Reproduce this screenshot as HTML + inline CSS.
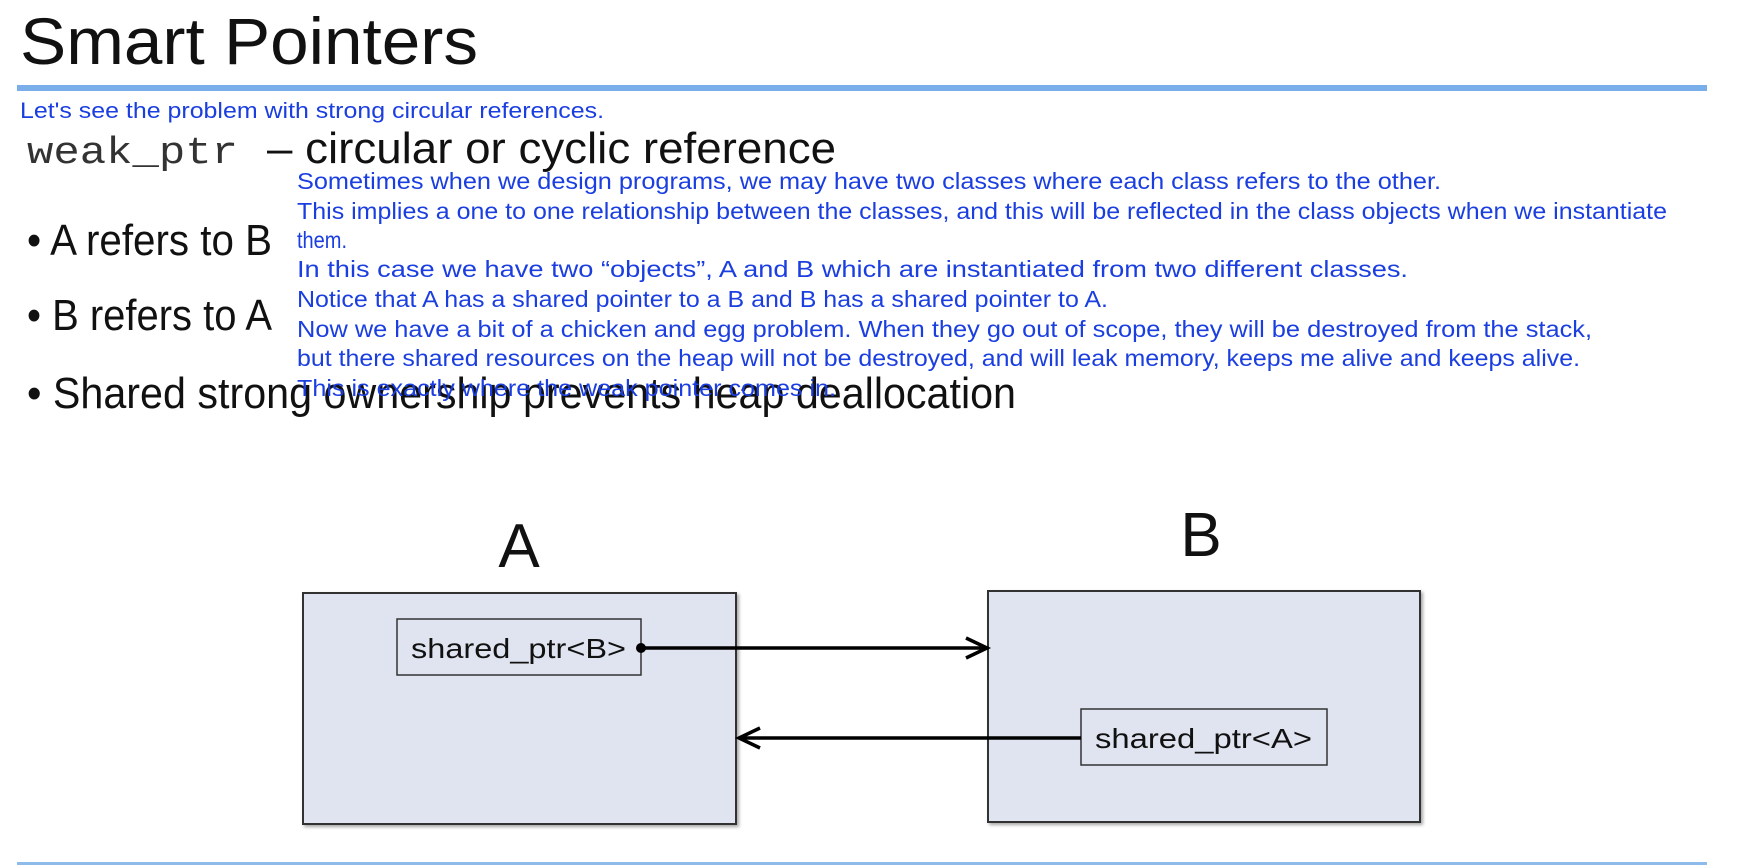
<!DOCTYPE html>
<html><head><meta charset="utf-8"><style>
html,body{margin:0;padding:0;background:#fff;width:1744px;height:868px;overflow:hidden}
</style></head><body>
<svg width="1744" height="868" xmlns="http://www.w3.org/2000/svg">
<defs>
<filter id="sh" x="-5%" y="-5%" width="110%" height="110%"><feDropShadow dx="2" dy="2" stdDeviation="1.5" flood-color="#000" flood-opacity="0.35"/></filter>
</defs>
<text x="20" y="64" font-family="Liberation Sans, sans-serif" font-size="66" fill="#111" textLength="458" lengthAdjust="spacingAndGlyphs">Smart Pointers</text>
<rect x="17" y="85" width="1690" height="6" fill="#7aaee8"/>
<text x="20" y="118" font-family="Liberation Sans, sans-serif" font-size="22" fill="#1a3ee0" textLength="584" lengthAdjust="spacingAndGlyphs">Let's see the problem with strong circular references.</text>
<g font-family="Liberation Sans, sans-serif" font-size="44" fill="#111">
<text x="27" y="163" font-family="Liberation Mono, monospace" font-size="38" fill="#333" textLength="211" lengthAdjust="spacingAndGlyphs">weak_ptr</text>
<text x="267" y="163" textLength="569" lengthAdjust="spacingAndGlyphs">– circular or cyclic reference</text>
<text x="27" y="255" textLength="245" lengthAdjust="spacingAndGlyphs">• A refers to B</text>
<text x="27" y="330" textLength="245" lengthAdjust="spacingAndGlyphs">• B refers to A</text>
<text x="27" y="408" textLength="989" lengthAdjust="spacingAndGlyphs">• Shared strong ownership prevents heap deallocation</text>
</g>
<g font-family="Liberation Sans, sans-serif" font-size="23" fill="#1a3ee0">
<text x="297" y="189" textLength="1144" lengthAdjust="spacingAndGlyphs">Sometimes when we design programs, we may have two classes where each class refers to the other.</text>
<text x="297" y="219" textLength="1370" lengthAdjust="spacingAndGlyphs">This implies a one to one relationship between the classes, and this will be reflected in the class objects when we instantiate</text>
<text x="297" y="248" textLength="50" lengthAdjust="spacingAndGlyphs">them.</text>
<text x="297" y="277" textLength="1111" lengthAdjust="spacingAndGlyphs">In this case we have two “objects”, A and B which are instantiated from two different classes.</text>
<text x="297" y="307" textLength="811" lengthAdjust="spacingAndGlyphs">Notice that A has a shared pointer to a B and B has a shared pointer to A.</text>
<text x="297" y="337" textLength="1295" lengthAdjust="spacingAndGlyphs">Now we have a bit of a chicken and egg problem. When they go out of scope, they will be destroyed from the stack,</text>
<text x="297" y="366" textLength="1283" lengthAdjust="spacingAndGlyphs">but there shared resources on the heap will not be destroyed, and will leak memory, keeps me alive and keeps alive.</text>
<text x="297" y="396" textLength="539" lengthAdjust="spacingAndGlyphs">This is exactly where the weak pointer comes in.</text>
</g>
<text x="519" y="567" text-anchor="middle" font-family="Liberation Sans, sans-serif" font-size="62" fill="#111">A</text>
<text x="1201" y="556" text-anchor="middle" font-family="Liberation Sans, sans-serif" font-size="62" fill="#111">B</text>
<rect x="303" y="593" width="433" height="231" fill="#dfe4f0" stroke="#333" stroke-width="2" filter="url(#sh)"/>
<rect x="988" y="591" width="432" height="231" fill="#dfe4f0" stroke="#333" stroke-width="2" filter="url(#sh)"/>
<rect x="397" y="619" width="244" height="56" fill="#dfe4f0" stroke="#333" stroke-width="1.5"/>
<text x="411" y="658" font-family="Liberation Sans, sans-serif" font-size="28" fill="#111" textLength="215" lengthAdjust="spacingAndGlyphs">shared_ptr&lt;B&gt;</text>
<rect x="1081" y="709" width="246" height="56" fill="#dfe4f0" stroke="#333" stroke-width="1.5"/>
<text x="1095" y="748" font-family="Liberation Sans, sans-serif" font-size="28" fill="#111" textLength="217" lengthAdjust="spacingAndGlyphs">shared_ptr&lt;A&gt;</text>
<circle cx="641" cy="648" r="5" fill="#000"/>
<line x1="641" y1="648" x2="984" y2="648" stroke="#000" stroke-width="3.5"/>
<path d="M966 638 L987 648 L966 658" fill="none" stroke="#000" stroke-width="3.5"/>
<line x1="1081" y1="738" x2="742" y2="738" stroke="#000" stroke-width="3.5"/>
<path d="M760 728 L739 738 L760 748" fill="none" stroke="#000" stroke-width="3.5"/>
<rect x="17" y="862" width="1690" height="3" fill="#8dbcea"/>
</svg>
</body></html>
